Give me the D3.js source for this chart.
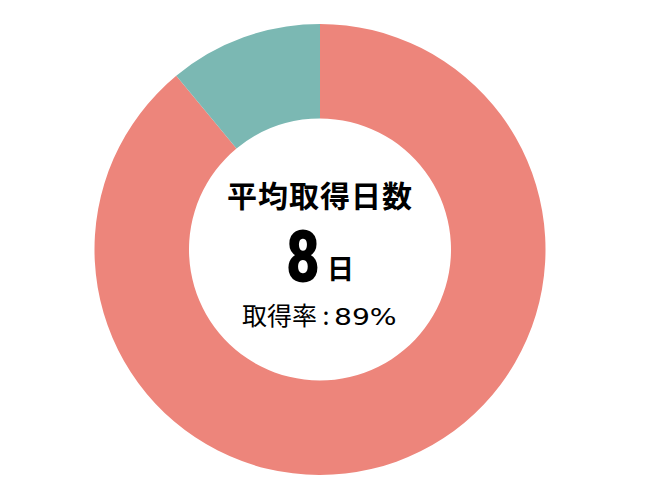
<!DOCTYPE html>
<html>
<head>
<meta charset="utf-8">
<script src="https://cdn.jsdelivr.net/npm/d3@7"></script>
<style>
  body { margin: 0; background: #fff; }
  text { font-family: "Noto Sans CJK JP", "Noto Sans", sans-serif; fill: #000; }
</style>
</head>
<body>
<svg id="chart" width="650" height="500"></svg>
<script>
const labels = ["取得", "未取得"];
const values = [89, 11];
const colors = ["#ED857B", "#7BB8B3"];

const title = "平均取得日数";
const avgDays = "8";
const dayUnit = "日";
const rateLabel = "取得率 :";
const rateValue = "89%";

const svg = d3.select('#chart');
const cx = 320, cy = 249.5;
const outerR = 225.5, innerR = 131;

const pie = d3.pie().sort(null).value(d => d);
const arc = d3.arc().innerRadius(innerR).outerRadius(outerR);

const g = svg.append('g').attr('transform', `translate(${cx},${cy})`);

g.selectAll('path')
  .data(pie(values))
  .join('path')
  .attr('d', arc)
  .attr('fill', (d, i) => colors[i])
  .append('title').text((d, i) => `${labels[i]}: ${values[i]}%`);

// title
g.append('text')
  .attr('x', 0)
  .attr('y', -43)
  .attr('text-anchor', 'middle')
  .style('font-size', '30px')
  .style('font-weight', 'bold')
  .style('letter-spacing', '1px')
  .text(title);

// big number, condensed
g.append('text')
  .attr('text-anchor', 'middle')
  .attr('transform', 'translate(-17,32) scale(0.8,1)')
  .style('font-family', 'Roboto, sans-serif')
  .style('font-size', '73px')
  .style('font-weight', '900')
  .text(avgDays);

g.append('text')
  .attr('x', 7)
  .attr('y', 29.5)
  .style('font-size', '27px')
  .style('font-weight', 'bold')
  .text(dayUnit);

// rate line
g.append('text')
  .attr('x', -78)
  .attr('y', 75)
  .style('font-size', '25px')
  .text(rateLabel);

// wide digits: stretch horizontally
g.append('text')
  .attr('transform', 'translate(14,75) scale(1.2,1)')
  .style('font-family', '"DejaVu Sans", sans-serif')
  .style('font-size', '23.5px')
  .style('font-weight', 'normal')
  .text(rateValue);
</script>
</body>
</html>
